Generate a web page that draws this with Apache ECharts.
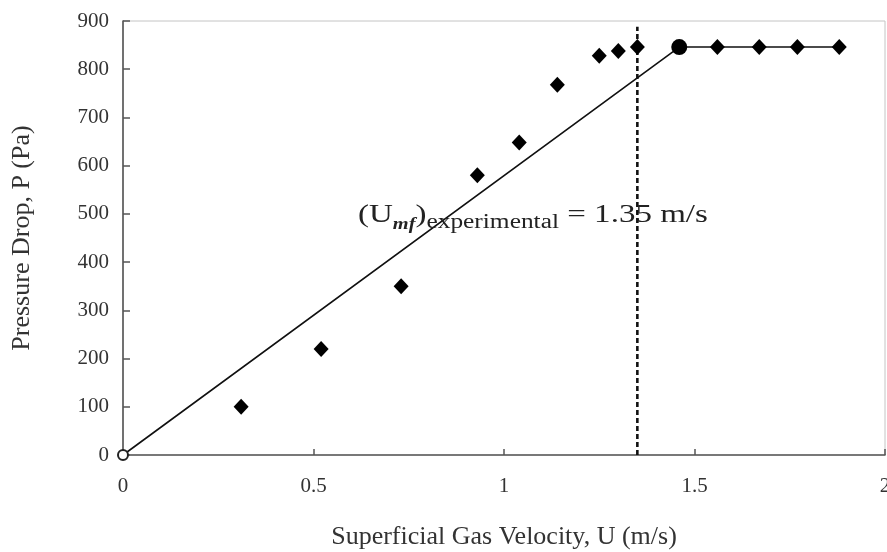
<!DOCTYPE html>
<html>
<head>
<meta charset="utf-8">
<script src="https://cdn.jsdelivr.net/npm/echarts@6/dist/echarts.min.js"></script>
<style>
  html, body { margin: 0; padding: 0; background: #fff; }
  #chart { width: 887px; height: 552px; }
</style>
</head>
<body>
<div id="chart"></div>
<script>
// Measured data (superficial gas velocity U in m/s, pressure drop P in Pa)
const velocity = [0.31, 0.52, 0.73, 0.93, 1.04, 1.14, 1.25, 1.30, 1.35, 1.56, 1.67, 1.77, 1.88];
const pressure = [100, 220, 350, 580, 648, 768, 828, 838, 846, 846, 846, 846, 846];
// Fitted line: origin -> minimum fluidization point -> plateau
const fitU = [0, 1.46, 1.88];
const fitP = [0, 846, 846];
// Marked points on the fitted line
const originPoint = [0, 0];
const kneePoint = [1.46, 846];
// Experimental minimum fluidization velocity (dashed marker)
const umf = 1.35;
const umfTop = 888;
const xTicks = [0, 0.5, 1, 1.5, 2];
const yTicks = [0, 100, 200, 300, 400, 500, 600, 700, 800, 900];

const serif = 'Liberation Serif, Times New Roman, serif';
const textColor = '#333';

const chart = echarts.init(document.getElementById('chart'), null, { renderer: 'canvas' });

const scatterData = velocity.map((u, i) => [u, pressure[i]]);
const fitData = fitU.map((u, i) => [u, fitP[i]]);

chart.setOption({
  animation: false,
  backgroundColor: '#ffffff',
  grid: {
    left: 123, right: 2, top: 21, bottom: 97,
    outerBoundsMode: 'none', containLabel: false,
    show: true, borderColor: '#c4c4c4', borderWidth: 1, backgroundColor: 'transparent'
  },
  xAxis: {
    type: 'value',
    min: xTicks[0], max: xTicks[xTicks.length - 1], interval: 0.5,
    name: 'Superficial Gas Velocity, U (m/s)',
    nameLocation: 'middle', nameGap: 69,
    nameTextStyle: { fontFamily: serif, fontSize: 26, color: textColor },
    axisLine: { show: true, onZero: false, lineStyle: { color: '#555', width: 1.6 } },
    axisTick: { show: true, inside: true, length: 6, lineStyle: { color: '#555', width: 1.5 } },
    axisLabel: { fontFamily: serif, fontSize: 21, color: textColor, margin: 21,
      formatter: v => String(v) },
    splitLine: { show: false }
  },
  yAxis: {
    type: 'value',
    min: yTicks[0], max: yTicks[yTicks.length - 1], interval: 100,
    name: 'Pressure Drop, P (Pa)',
    nameLocation: 'middle', nameGap: 88, nameRotate: 90,
    nameTextStyle: { fontFamily: serif, fontSize: 26, color: textColor },
    axisLine: { show: true, onZero: false, lineStyle: { color: '#555', width: 1.6 } },
    axisTick: { show: true, inside: true, length: 7, lineStyle: { color: '#555', width: 1.5 } },
    axisLabel: { fontFamily: serif, fontSize: 21, color: textColor, margin: 14 },
    splitLine: { show: false }
  },
  series: [
    {
      type: 'line', data: fitData, symbol: 'none', silent: true,
      lineStyle: { color: '#111', width: 1.6 }, z: 3
    },
    {
      type: 'line', data: [[umf, 0], [umf, umfTop]], symbol: 'none', silent: true,
      lineStyle: { color: '#111', width: 2.6, type: [5, 3] }, z: 4
    },
    {
      type: 'scatter', data: scatterData, symbol: 'diamond', symbolSize: [15, 16],
      itemStyle: { color: '#000', opacity: 1 }, z: 5
    },
    {
      type: 'scatter', data: [kneePoint], symbol: 'circle', symbolSize: 16,
      itemStyle: { color: '#000', opacity: 1 }, z: 6
    },
    {
      type: 'scatter', data: [originPoint], symbol: 'circle', symbolSize: 10,
      itemStyle: { color: '#fff', borderColor: '#222', borderWidth: 2, opacity: 1 }, z: 6
    }
  ],
  graphic: [
    {
      type: 'text', x: 358, y: 215, scaleX: 1.27, scaleY: 1, originX: 0, originY: 0,
      z: 10,
      style: {
        text: '{a|(U}{b|mf}{a|)}{c|experimental}{a| = 1.35 m/s}',
        verticalAlign: 'middle', align: 'left',
        rich: {
          a: { fontFamily: serif, fontSize: 26, lineHeight: 36, fill: '#222' },
          b: { fontFamily: serif, fontSize: 16, fontStyle: 'italic', fontWeight: 'bold', lineHeight: 22, verticalAlign: 'bottom', fill: '#222' },
          c: { fontFamily: serif, fontSize: 20, lineHeight: 22, verticalAlign: 'bottom', fill: '#222' }
        }
      }
    }
  ]
});
</script>
</body>
</html>
